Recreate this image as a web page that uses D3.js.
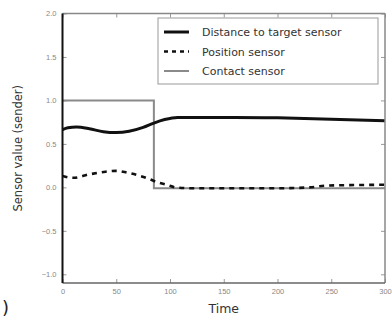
<!DOCTYPE html>
<html>
<head>
<meta charset="utf-8">
<script src="https://cdn.jsdelivr.net/npm/d3@7"></script>
<style>
  html, body { margin: 0; padding: 0; background: #fff; }
  svg { display: block; font-family: "DejaVu Sans", sans-serif; }
</style>
</head>
<body>
<svg id="chart" width="392" height="321"></svg>
<script>
// Sensor traces over time
const distanceTime  = [0, 5, 13, 25, 38, 50, 62, 75, 85, 95, 107, 130, 160, 200, 250, 300];
const distanceValue = [0.665, 0.685, 0.695, 0.675, 0.64, 0.63, 0.645, 0.69, 0.74, 0.78, 0.805, 0.805, 0.805, 0.80, 0.785, 0.765];

const positionTime  = [0, 10, 25, 40, 50, 60, 70, 80, 88, 97, 105, 120, 200, 230, 245, 300];
const positionValue = [0.13, 0.11, 0.15, 0.18, 0.19, 0.17, 0.14, 0.1, 0.06, 0.03, 0.0, -0.01, -0.01, 0.0, 0.02, 0.03];

const contactTime  = [0, 85, 85, 300];
const contactValue = [1.0, 1.0, -0.01, -0.01];

const xTicks = [0, 50, 100, 150, 200, 250, 300];
const yTicks = [2.0, 1.5, 1.0, 0.5, 0.0, -0.5, -1.0];

const legendLabels = ["Distance to target sensor", "Position sensor", "Contact sensor"];

const svg = d3.select("#chart");
const plot = { left: 62.5, right: 385, top: 13.5, bottom: 283 };

const x = d3.scaleLinear().domain([0, 300]).range([plot.left, plot.right]);
const y = d3.scaleLinear().domain([-1.1, 2.0]).range([plot.bottom, plot.top]);

// axes with inward ticks, light labels
const xAxis = d3.axisBottom(x).tickValues(xTicks).tickSizeInner(-4).tickSizeOuter(0).tickPadding(6)
  .tickFormat(d3.format("d"));
const yAxis = d3.axisLeft(y).tickValues(yTicks).tickSizeInner(-4).tickSizeOuter(0).tickPadding(6)
  .tickFormat(d => d3.format(".1f")(d).replace("-", "\u2212"));

const gx = svg.append("g").attr("transform", `translate(0,${plot.bottom})`).call(xAxis);
const gy = svg.append("g").attr("transform", `translate(${plot.left},0)`).call(yAxis);
[gx, gy].forEach(g => {
  g.select(".domain").remove();
  g.selectAll(".tick line").attr("stroke", "#999").attr("stroke-width", 1);
  g.selectAll(".tick text").attr("fill", "#888").attr("font-size", 7.5);
});

// mirrored ticks on top and right
svg.append("g").attr("transform", `translate(0,${plot.top})`)
  .call(d3.axisTop(x).tickValues(xTicks).tickSizeInner(-4).tickSizeOuter(0).tickFormat(""))
  .call(g => g.select(".domain").remove())
  .selectAll(".tick line").attr("stroke", "#999");
svg.append("g").attr("transform", `translate(${plot.right},0)`)
  .call(d3.axisRight(y).tickValues(yTicks).tickSizeInner(-4).tickSizeOuter(0).tickFormat(""))
  .call(g => g.select(".domain").remove())
  .selectAll(".tick line").attr("stroke", "#999");

const line = d3.line().x(d => x(d[0])).y(d => y(d[1]));
const zip = (a, b) => a.map((v, i) => [v, b[i]]);
const smooth = d3.line().x(d => x(d[0])).y(d => y(d[1])).curve(d3.curveMonotoneX);

// contact sensor (grey step)
svg.append("path").datum(zip(contactTime, contactValue))
  .attr("d", line).attr("fill", "none").attr("stroke", "#8a8a8a").attr("stroke-width", 2);

// position sensor (dashed)
svg.append("path").datum(zip(positionTime, positionValue))
  .attr("d", smooth).attr("fill", "none").attr("stroke", "#111").attr("stroke-width", 2.6)
  .attr("stroke-dasharray", "5,5");

// distance to target sensor (thick black)
svg.append("path").datum(zip(distanceTime, distanceValue))
  .attr("d", smooth).attr("fill", "none").attr("stroke", "#111").attr("stroke-width", 3);

// frame
svg.append("line").attr("x1", plot.left).attr("x2", plot.right).attr("y1", plot.top).attr("y2", plot.top)
  .attr("stroke", "#888").attr("stroke-width", 1.5);
svg.append("line").attr("x1", plot.right).attr("x2", plot.right).attr("y1", plot.top).attr("y2", plot.bottom)
  .attr("stroke", "#888").attr("stroke-width", 1.5);
svg.append("line").attr("x1", plot.left).attr("x2", plot.right).attr("y1", plot.bottom).attr("y2", plot.bottom)
  .attr("stroke", "#666").attr("stroke-width", 1.5);
svg.append("line").attr("x1", plot.left).attr("x2", plot.left).attr("y1", plot.top).attr("y2", plot.bottom)
  .attr("stroke", "#111").attr("stroke-width", 2);

// legend
const lg = svg.append("g");
lg.append("rect").attr("x", 158).attr("y", 18).attr("width", 220).attr("height", 66)
  .attr("fill", "#fff").attr("stroke", "#999").attr("stroke-width", 1);
const styles = [
  { stroke: "#111", width: 3, dash: null },
  { stroke: "#111", width: 2.6, dash: "4,4" },
  { stroke: "#8a8a8a", width: 2, dash: null }
];
legendLabels.forEach((t, i) => {
  const yy = 32 + i * 19.5;
  lg.append("line").attr("x1", 164).attr("x2", 189).attr("y1", yy).attr("y2", yy)
    .attr("stroke", styles[i].stroke).attr("stroke-width", styles[i].width)
    .attr("stroke-dasharray", styles[i].dash);
  lg.append("text").attr("x", 202).attr("y", yy + 4).text(t)
    .attr("font-size", 11).attr("fill", "#333");
});

// axis titles
svg.append("text").attr("x", (plot.left + plot.right) / 2).attr("y", 313)
  .attr("text-anchor", "middle").attr("font-size", 12.5).attr("fill", "#333").text("Time");
svg.append("text").attr("transform", `translate(22,${(plot.top + plot.bottom) / 2}) rotate(-90)`)
  .attr("text-anchor", "middle").attr("font-size", 11.5).attr("fill", "#333").text("Sensor value (sender)");

// panel tag
svg.append("text").attr("x", 2).attr("y", 314).attr("font-size", 18).attr("fill", "#222").text(")");
</script>
</body>
</html>
